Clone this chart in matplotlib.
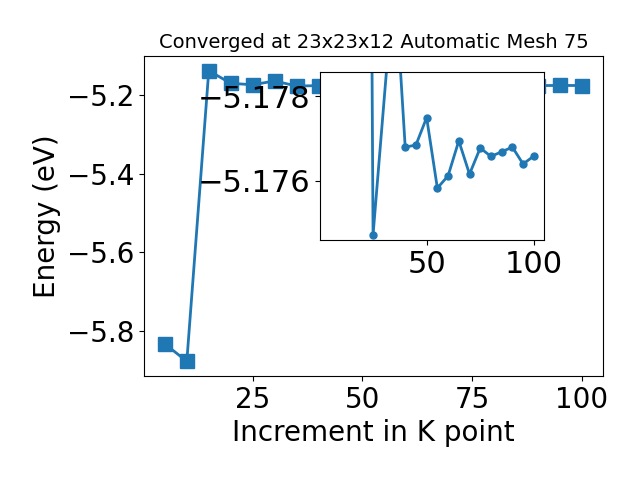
import matplotlib
matplotlib.use("Agg")
import matplotlib.pyplot as plt

# main curve
kpoints = [5, 10, 15, 20, 25, 30, 35, 40, 45, 50, 55, 60, 65, 70, 75, 80, 85, 90, 95, 100]
energy = [-5.832, -5.876, -5.139, -5.171, -5.1747, -5.165, -5.178, -5.1768, -5.17685, -5.1775,
          -5.17583, -5.17612, -5.17695, -5.17616, -5.17678, -5.17658, -5.17669, -5.1768,
          -5.1764, -5.17659]

# zoomed inset
inset_kpoints = [20, 25, 35, 40, 45, 50, 55, 60, 65, 70, 75, 80, 85, 90, 95, 100]
inset_energy = [-5.216, -5.17472, -5.18092, -5.1768, -5.17685, -5.1775, -5.17583, -5.17612,
                -5.17695, -5.17616, -5.17678, -5.17658, -5.17669, -5.1768, -5.1764, -5.17659]
inset_ticks = [-5.178, -5.176]

fig = plt.figure(figsize=(6.4, 4.8), dpi=100)
plt.subplots_adjust(left=0.225, right=0.942, bottom=0.217, top=0.883)
ax = plt.gca()
ax.plot(kpoints, energy, marker='s', markersize=10, linewidth=2, color='C0')
ax.set_xlabel("Increment in K point", fontsize=20)
ax.set_ylabel("Energy (eV)", fontsize=20)
ax.set_title("Converged at 23x23x12 Automatic Mesh 75", fontsize=14)
ax.tick_params(labelsize=20)

ins = fig.add_axes([0.5, 0.5, 0.35, 0.35])
ins.plot(inset_kpoints, inset_energy, marker='o', markersize=5, linewidth=2, color='C0')
ins.set_xlim(ax.get_xlim())
ins.set_ylim(-5.1746, -5.17858)
ins.set_yticks(inset_ticks)
ins.tick_params(labelsize=22)

plt.savefig("out.png")
